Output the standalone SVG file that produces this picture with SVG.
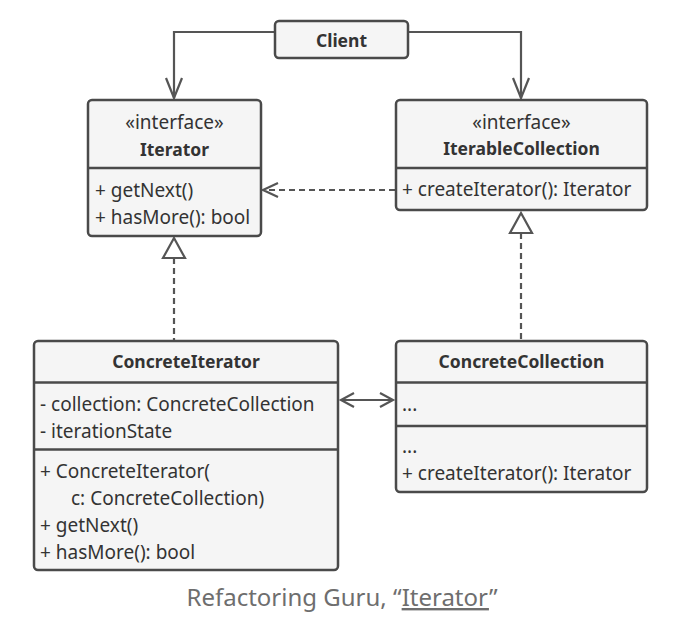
<svg xmlns="http://www.w3.org/2000/svg" width="694" height="619" viewBox="0 0 694 619">
<style>
.box{fill:#f5f5f5;stroke:#4a4a4a;stroke-width:2.5}
.div{stroke:#4a4a4a;stroke-width:2.5}
.ln{fill:none;stroke:#555;stroke-width:2.2}
.dash{fill:none;stroke:#555;stroke-width:2.2;stroke-dasharray:6,4}
.head{fill:none;stroke:#555;stroke-width:2.2;stroke-linejoin:miter}
.tri{fill:#fff;stroke:#555;stroke-width:2.2}
text{font-family:"Noto Sans","Liberation Sans",sans-serif;font-size:19px;fill:#333}
.b{font-weight:bold;font-size:17.5px}
.c{text-anchor:middle}
.cap{font-size:24px;fill:#6e6e6e}
</style>
<rect width="694" height="619" fill="#fff"/>
<g id="connectors">
<path class="ln" d="M275,32 H174 V98"/>
<path class="head" d="M166,78 L174,98 L182,78"/>
<path class="ln" d="M408,32 H521 V98"/>
<path class="head" d="M513,78 L521,98 L529,78"/>
<path class="dash" d="M395,190 H264"/>
<path class="head" d="M278,183 L263,190 L278,197"/>
<path class="dash" d="M174,258 V340"/>
<polygon class="tri" points="174,238 163,258 185,258"/>
<path class="dash" d="M521,233 V340"/>
<polygon class="tri" points="521,213 510,233 532,233"/>
<path class="ln" d="M342,400 H392"/>
<path class="head" d="M354,393 L341,400 L354,407"/>
<path class="head" d="M380,393 L393,400 L380,407"/>
</g>
<g id="client">
<rect class="box" x="275" y="21" width="133" height="37" rx="4"/>
<text class="b c" x="341.5" y="46.5">Client</text>
</g>
<g id="iterator">
<rect class="box" x="88" y="100" width="173" height="136" rx="4"/>
<line class="div" x1="88" y1="168" x2="261" y2="168"/>
<text class="c" x="174.5" y="128.5">«interface»</text>
<text class="b c" x="174.5" y="155.5">Iterator</text>
<text x="95" y="196.5">+ getNext()</text>
<text x="95" y="223.5">+ hasMore(): bool</text>
</g>
<g id="iterablecollection">
<rect class="box" x="396" y="100" width="251" height="110" rx="4"/>
<line class="div" x1="396" y1="168" x2="647" y2="168"/>
<text class="c" x="521.5" y="128.5">«interface»</text>
<text class="b c" x="521.5" y="154.5">IterableCollection</text>
<text x="402" y="195.5">+ createIterator(): Iterator</text>
</g>
<g id="concreteiterator">
<rect class="box" x="34" y="341" width="304" height="229" rx="4"/>
<line class="div" x1="34" y1="382.5" x2="338" y2="382.5"/>
<line class="div" x1="34" y1="449.5" x2="338" y2="449.5"/>
<text class="b c" x="186" y="368">ConcreteIterator</text>
<text x="40" y="410.5">- collection: ConcreteCollection</text>
<text x="40" y="437.5">- iterationState</text>
<text x="40" y="477.5">+ ConcreteIterator(</text>
<text x="71" y="504.5">c: ConcreteCollection)</text>
<text x="40" y="531.5">+ getNext()</text>
<text x="40" y="558.5">+ hasMore(): bool</text>
</g>
<g id="concretecollection">
<rect class="box" x="396" y="341" width="251" height="151" rx="4"/>
<line class="div" x1="396" y1="382.5" x2="647" y2="382.5"/>
<line class="div" x1="396" y1="426" x2="647" y2="426"/>
<text class="b c" x="521.5" y="368">ConcreteCollection</text>
<text x="402" y="410.5">...</text>
<text x="402" y="453">...</text>
<text x="402" y="480">+ createIterator(): Iterator</text>
</g>
<text class="cap c" x="342" y="606">Refactoring Guru, “<tspan text-decoration="underline">Iterator</tspan>”</text>
</svg>
